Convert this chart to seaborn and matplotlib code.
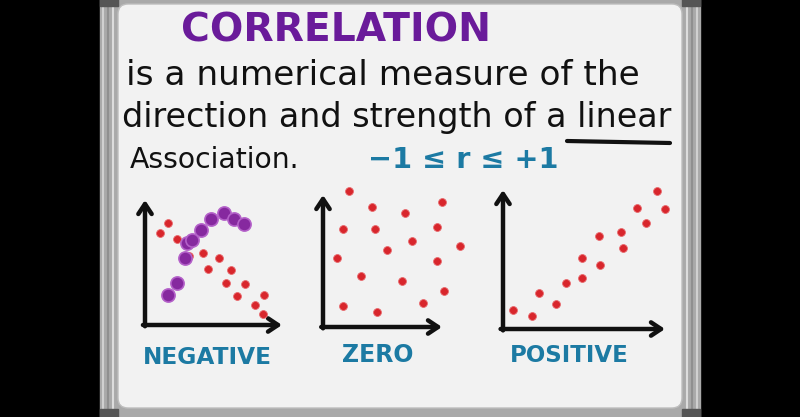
import matplotlib
matplotlib.use("Agg")
import matplotlib.pyplot as plt
from matplotlib.patches import FancyBboxPatch, Rectangle
import seaborn as sns

# scatter data, each panel on a 0-10 scale (origin = corner of the drawn axes)
neg_x = [1.7, 1.1, 2.3, 3.2, 4.2, 5.4, 4.6, 6.3, 5.9, 7.3, 6.7, 8.7, 8.0, 8.6]
neg_y = [8.2, 7.4, 6.9, 5.5, 5.8, 5.4, 4.5, 4.4, 3.4, 3.3, 2.3, 2.4, 1.6, 0.9]
curve_x = [1.7, 2.3, 2.9, 3.1, 3.4, 4.1, 4.8, 5.8, 6.5, 7.2]
curve_y = [2.4, 3.4, 5.4, 6.6, 6.8, 7.6, 8.5, 9.0, 8.5, 8.1]
zero_x = [2.2, 4.1, 10.0, 6.9, 1.7, 4.4, 9.6, 7.5, 5.4, 11.5, 1.2, 9.6, 3.2, 6.6, 10.2, 1.7, 4.5, 8.4]
zero_y = [10.3, 9.1, 9.5, 8.6, 7.4, 7.4, 7.6, 6.5, 5.8, 6.1, 5.2, 5.0, 3.9, 3.5, 2.7, 1.6, 1.1, 1.8]
pos_x = [9.5, 8.3, 10.0, 8.8, 5.9, 7.3, 7.4, 4.9, 6.0, 4.9, 3.9, 2.2, 3.3, 0.6, 1.8]
pos_y = [9.9, 8.7, 8.6, 7.6, 6.7, 7.0, 5.8, 5.1, 4.6, 3.7, 3.3, 2.6, 1.8, 1.4, 0.9]

panel_labels = ["NEGATIVE", "ZERO", "POSITIVE"]

RED = "#d8262c"
PURPLE_DOT = "#86299f"
PURPLE_TXT = "#6a1b9a"
BLUE = "#1c7aa3"
INK = "#111111"

sns.set_theme(style="white")
plt.rcParams["font.family"] = ["DejaVu Sans"]

fig = plt.figure(figsize=(8, 4.17), dpi=100, facecolor="black")
bg = fig.add_axes([0, 0, 1, 1])
bg.set_xlim(0, 800)
bg.set_ylim(417, 0)
bg.axis("off")
bg.set_facecolor("black")

# whiteboard frame and surface
bg.add_patch(Rectangle((100, -5), 600, 425, color="#a9a9a9", zorder=0))
for x, c in [(103, "#d0d0d0"), (108, "#8f8f8f"), (113, "#dcdcdc"),
             (687, "#dcdcdc"), (692, "#8f8f8f"), (697, "#d0d0d0")]:
    bg.plot([x, x], [0, 417], color=c, lw=1.5, zorder=0.5)
bg.add_patch(FancyBboxPatch((118, 4), 564, 404, boxstyle="round,pad=0,rounding_size=10",
                            fc="#f2f2f2", ec="#bdbdbd", lw=1, zorder=1))
for x0 in (100, 682):
    bg.add_patch(Rectangle((x0, -2), 18, 8, color="#555555", zorder=1))
    bg.add_patch(Rectangle((x0, 409), 18, 8, color="#555555", zorder=1))

renderer = fig.canvas.get_renderer()


def put_text(s, x0, x1, y, color, weight="normal", max_size=None):
    # scale the font so the text spans x0..x1, optionally capped
    t = bg.text((x0 + x1) / 2, y, s, ha="center", va="center", color=color,
                fontsize=20, fontweight=weight, zorder=3)
    w = t.get_window_extent(renderer).width
    size = 20 * (x1 - x0) / w
    if max_size:
        size = min(size, max_size)
    t.set_fontsize(size)
    return t


put_text("CORRELATION", 182, 490, 30, PURPLE_TXT, "bold")
put_text("is a numerical measure of the", 125, 640, 75, INK)
put_text("direction and strength of a linear", 122, 672, 117, INK)
bg.plot([567, 670], [141, 143], color=INK, lw=3, solid_capstyle="round", zorder=3)
put_text("Association.", 130, 300, 160, INK)
put_text("\u22121 \u2264 r \u2264 +1", 368, 558, 160, BLUE, "bold")

# panel boxes: left, right, bottom, top in pixels
boxes = [(145, 282, 325, 200), (323, 442, 327, 195), (503, 665, 329, 190)]
label_pos = [(143, 272, 357), (333, 422, 355), (510, 628, 356)]
point_sets = [(neg_x, neg_y), (zero_x, zero_y), (pos_x, pos_y)]

for i, (l, r, b, t) in enumerate(boxes):
    ax = fig.add_axes([l / 800, (417 - b) / 417, (r - l) / 800, (b - t) / 417])
    ax.set_xlim(0, 10)
    ax.set_ylim(0, 10)
    ax.axis("off")
    ax.patch.set_alpha(0)
    arrow = dict(arrowstyle="->,head_length=0.6,head_width=0.4", lw=3.2,
                 color=INK, shrinkA=0, shrinkB=0)
    ax.annotate("", xy=(0, 1.0), xytext=(0, -0.01), xycoords="axes fraction", arrowprops=arrow)
    ax.annotate("", xy=(1.0, 0), xytext=(-0.015, 0), xycoords="axes fraction", arrowprops=arrow)
    px, py = point_sets[i]
    sns.scatterplot(x=px, y=py, ax=ax, color=RED, s=32, edgecolor="#e86a6e",
                    linewidth=0.6, clip_on=False, zorder=3)
    if i == 0:
        sns.scatterplot(x=curve_x, y=curve_y, ax=ax, color=PURPLE_DOT, s=90,
                        edgecolor="#b461c9", linewidth=1.2, clip_on=False, zorder=4)
    x0, x1, y = label_pos[i]
    put_text(panel_labels[i], x0, x1, y, BLUE, "bold", max_size=17)

fig.savefig("out.png", dpi=100, facecolor="black")
